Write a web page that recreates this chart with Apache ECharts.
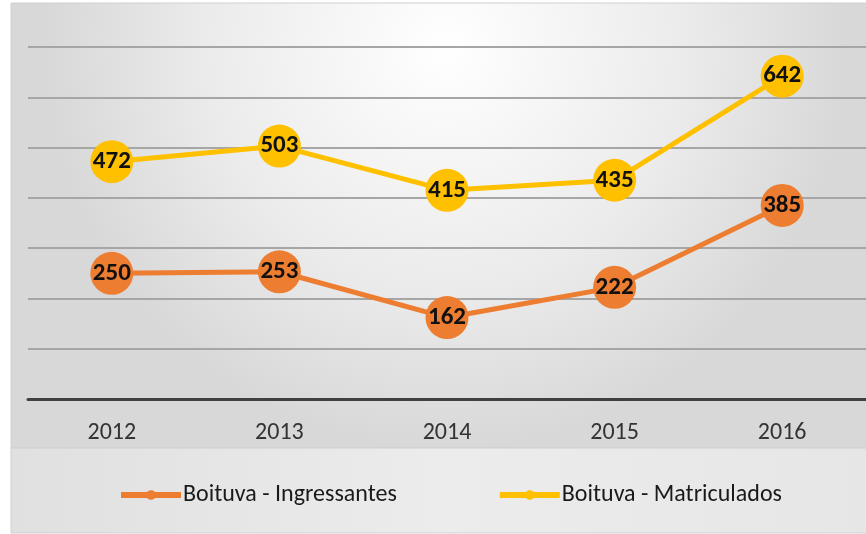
<!DOCTYPE html>
<html>
<head>
<meta charset="utf-8">
<script src="https://cdn.jsdelivr.net/npm/echarts@6/dist/echarts.min.js"></script>
<style>
html,body{margin:0;padding:0;background:#fff;}
#c{width:866px;height:534px;}
</style>
</head>
<body>
<div id="c"></div>
<script>
var categories = ['2012', '2013', '2014', '2015', '2016'];
var ingressantes = [250, 253, 162, 222, 385];
var matriculados = [472, 503, 415, 435, 642];
var seriesNames = ['Boituva - Ingressantes', 'Boituva - Matriculados'];
var FONT = 'Carlito, Lato, sans-serif';

var chart = echarts.init(document.getElementById('c'));
chart.setOption({
  animation: false,
  graphic: [
    {type: 'rect', z: -10, silent: true, shape: {x: 11, y: 3, width: 870, height: 445},
     style: {fill: new echarts.graphic.RadialGradient(0.5, 0.1, 0.9, [
       {offset: 0, color: '#ffffff'}, {offset: 0.6, color: '#ebebeb'}, {offset: 1, color: '#d8d8d8'}]), stroke: '#d0d0d0', lineWidth: 1}},
    {type: 'rect', z: -10, silent: true, shape: {x: 11, y: 448, width: 870, height: 85},
     style: {fill: new echarts.graphic.LinearGradient(0, 0, 1, 0, [
       {offset: 0, color: '#e0e0e0'}, {offset: 0.5, color: '#ececec'}, {offset: 1, color: '#e6e6e6'}]), stroke: '#d0d0d0', lineWidth: 1}}
  ],
  grid: {left: 28, top: 47, width: 844, height: 352, containLabel: false},
  xAxis: {
    type: 'category', data: categories,
    axisLine: {lineStyle: {color: '#404040', width: 3}},
    axisTick: {show: false},
    axisLabel: {fontFamily: FONT, fontSize: 24, color: '#333333', margin: 22}
  },
  yAxis: {
    type: 'value', min: 0, max: 700, interval: 100,
    axisLabel: {show: false}, axisLine: {show: false}, axisTick: {show: false},
    splitLine: {lineStyle: {color: '#a6a6a6', width: 2}}
  },
  legend: {
    top: 478, left: 113, itemWidth: 60, itemHeight: 12, itemGap: 100,
    lineStyle: {width: 6},
    textStyle: {fontFamily: FONT, fontSize: 24, color: '#1a1a1a', padding: [0, 0, 0, -3]},
    data: seriesNames
  },
  series: [
    {name: seriesNames[0], type: 'line', data: ingressantes, symbol: 'circle', symbolSize: 43,
     itemStyle: {color: '#ed7d31'}, lineStyle: {color: '#ed7d31', width: 5},
     label: {show: true, position: 'inside', fontFamily: FONT, fontWeight: 'bold', fontSize: 25, color: '#111'}},
    {name: seriesNames[1], type: 'line', data: matriculados, symbol: 'circle', symbolSize: 43,
     itemStyle: {color: '#ffc000'}, lineStyle: {color: '#ffc000', width: 5},
     label: {show: true, position: 'inside', fontFamily: FONT, fontWeight: 'bold', fontSize: 25, color: '#111'}}
  ]
});
</script>
</body>
</html>
